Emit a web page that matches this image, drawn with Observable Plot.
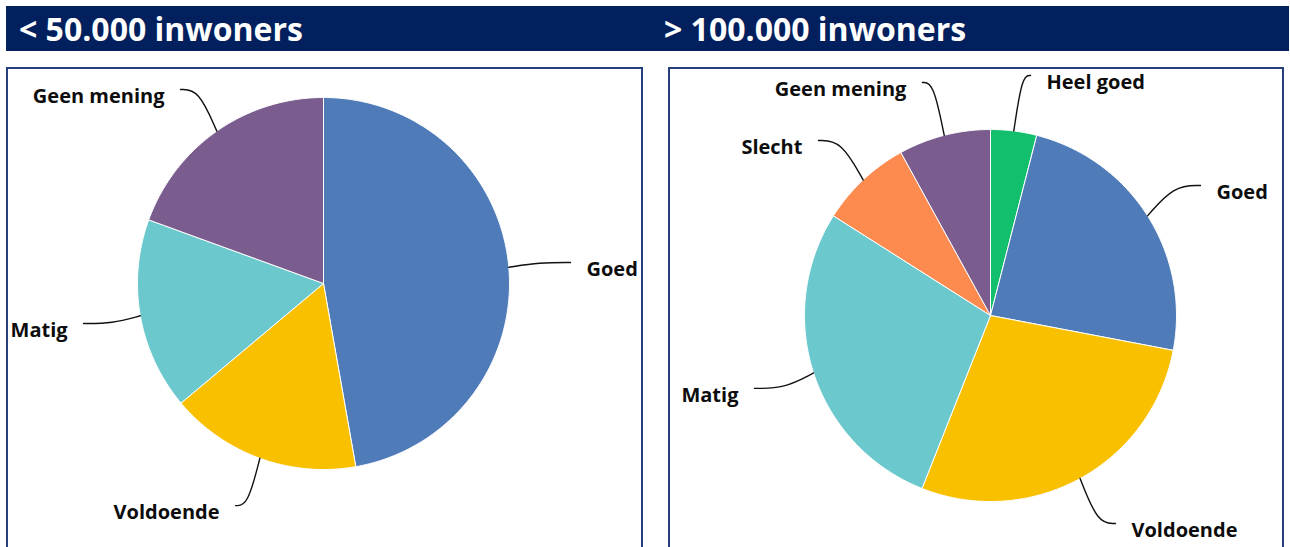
<!DOCTYPE html>
<html>
<head>
<meta charset="utf-8">
<script src="https://cdn.jsdelivr.net/npm/d3@7"></script>
<script src="https://cdn.jsdelivr.net/npm/@observablehq/plot@0.6"></script>
<style>
  body { margin: 0; background: #fff; width: 1290px; height: 547px; overflow: hidden; position: relative; font-family: "Open Sans", Lato, sans-serif; }
  #bar { position: absolute; left: 6px; top: 6px; width: 1283px; height: 45px; background: #03205e; }
  .title { position: absolute; top: 0; line-height: 46px; color: #fff; font-weight: 700; font-size: 32px; white-space: nowrap; }
  .panel { position: absolute; top: 67px; height: 490px; border: 2px solid #24407e; border-bottom: none; background: #fff; }
  .panel svg { display: block; }
</style>
</head>
<body>
<div id="bar">
  <div class="title" style="left:13px">&lt; 50.000 inwoners</div>
  <div class="title" style="left:658px">&gt; 100.000 inwoners</div>
</div>
<div class="panel" id="left" style="left:6px; width:633px;"></div>
<div class="panel" id="right" style="left:668px; width:612px;"></div>
<script>
// ---- data ----
const leftCategories = ["Goed", "Voldoende", "Matig", "Geen mening"];
const leftValues = [17, 6, 6, 7];

const rightCategories = ["Heel goed", "Goed", "Voldoende", "Matig", "Slecht", "Geen mening"];
const rightValues = [1, 6, 7, 7, 2, 2];

const colorDomain = ["Heel goed", "Goed", "Voldoende", "Matig", "Slecht", "Geen mening"];
const colorRange = ["#12bf6d", "#4f7cb8", "#f9c000", "#6bc8cc", "#fd8b50", "#7a5c8e"];

// ---- layout: label leader-line end points, in pie-radius units relative to centre ----
const leftLabelAnchors = [[1.328, 0.113], [-0.473, -1.194], [-1.290, -0.215], [-0.769, 1.043]];
const rightLabelAnchors = [[0.215, 1.290], [1.129, 0.699], [0.672, -1.118], [-1.269, -0.392], [-0.925, 0.941], [-0.366, 1.253]];

function pieChart(categories, values, anchors, {width, height, cx, cy, r}) {
  const arcs = d3.pie().sort(null).value(d => d)(values);
  const slicePts = [];
  const leaderPts = [];
  const labels = [];
  arcs.forEach((a, i) => {
    const label = categories[i];
    slicePts.push({label, x: 0, y: 0});
    const n = Math.max(2, Math.ceil((a.endAngle - a.startAngle) / 0.01));
    for (let k = 0; k <= n; k++) {
      const t = a.startAngle + (a.endAngle - a.startAngle) * k / n;
      slicePts.push({label, x: Math.sin(t), y: Math.cos(t)});
    }
    slicePts.push({label, x: 0, y: 0});
    const m = (a.startAngle + a.endAngle) / 2;
    const p0 = [Math.sin(m), Math.cos(m)];
    const p2 = anchors[i];
    const p1 = [p2[0] + 0.5 * (p0[0] - p2[0]), p2[1]];
    leaderPts.push({label, x: p0[0], y: p0[1]}, {label, x: p1[0], y: p1[1]}, {label, x: p2[0], y: p2[1]});
    labels.push({label, x: p2[0], y: p2[1], side: p2[0] >= p0[0] ? "right" : "left"});
  });
  const textOpts = {x: "x", y: "y", text: "label", fontSize: 20, fontWeight: 700, fill: "#0d0d0d", dy: 7, lineAnchor: "middle"};
  return Plot.plot({
    width, height,
    margin: 0,
    style: {fontFamily: "'Open Sans', Lato, sans-serif", background: "transparent"},
    x: {domain: [-cx / r, (width - cx) / r], axis: null},
    y: {domain: [(cy - height) / r, cy / r], axis: null},
    color: {domain: colorDomain, range: colorRange},
    marks: [
      Plot.line(slicePts, {x: "x", y: "y", z: "label", fill: "label", stroke: "#ffffff", strokeWidth: 1, strokeLinejoin: "round", curve: "linear"}),
      Plot.line(leaderPts, {x: "x", y: "y", z: "label", curve: "basis", stroke: "#111", strokeWidth: 1.4}),
      Plot.text(labels.filter(d => d.side === "right"), {...textOpts, textAnchor: "start", dx: 16}),
      Plot.text(labels.filter(d => d.side === "left"), {...textOpts, textAnchor: "end", dx: -16})
    ]
  });
}

document.getElementById("left").append(
  pieChart(leftCategories, leftValues, leftLabelAnchors, {width: 633, height: 478, cx: 315, cy: 214, r: 186})
);
document.getElementById("right").append(
  pieChart(rightCategories, rightValues, rightLabelAnchors, {width: 612, height: 478, cx: 320, cy: 246, r: 186})
);
</script>
</body>
</html>
